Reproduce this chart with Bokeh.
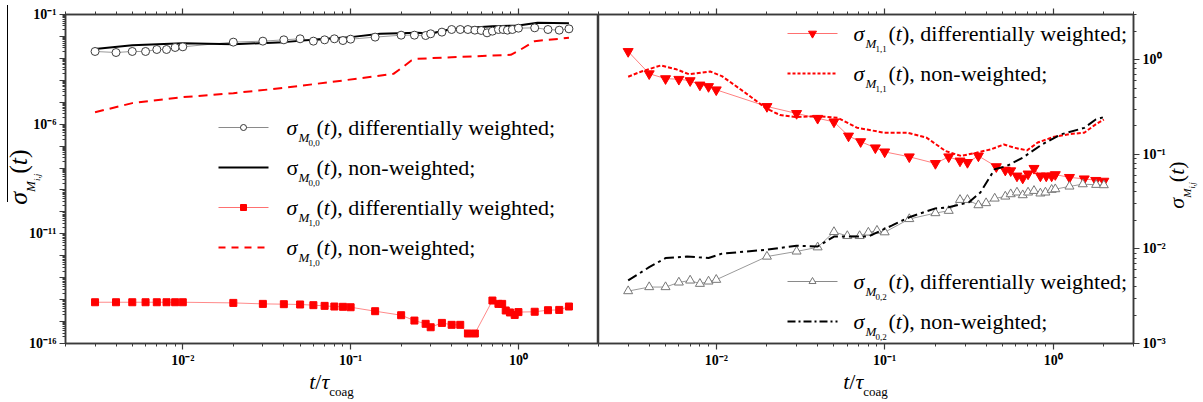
import json
import math

from bokeh.plotting import figure
from bokeh.models import FixedTicker, CustomJSTickFormatter, LogAxis, Label, Range1d, Div
from bokeh.layouts import row, column
from bokeh.embed import file_html
from bokeh.resources import INLINE

# ------------------------------------------------------------------
# Data
# ------------------------------------------------------------------
# Left panel: sigma_M00 and sigma_M10
t_m00_dw = [0.003, 0.004, 0.005, 0.006, 0.007, 0.008, 0.009, 0.01,
            0.02, 0.03, 0.04, 0.05, 0.06, 0.07, 0.08, 0.09, 0.1,
            0.14, 0.2, 0.24, 0.28, 0.3, 0.35, 0.4, 0.45, 0.5, 0.55, 0.6, 0.65,
            0.7, 0.76, 0.81, 0.86, 0.92, 1.0, 1.25, 1.5, 1.75, 2.0]
y_m00_dw = [2.06e-3, 1.85e-3, 2.06e-3, 2.06e-3, 2.54e-3, 2.54e-3, 3.13e-3, 3.36e-3,
            5.5e-3, 6.1e-3, 7.0e-3, 7.8e-3, 6.1e-3, 7.0e-3, 7.8e-3, 6.5e-3, 7.5e-3,
            9.3e-3, 1.14e-2, 1.14e-2, 1.1e-2, 1.32e-2, 1.57e-2, 2.07e-2, 2.07e-2, 2.07e-2,
            1.93e-2, 1.87e-2, 1.46e-2, 1.74e-2, 2.07e-2, 2.07e-2, 1.93e-2, 2.07e-2, 2.38e-2,
            2.47e-2, 2.07e-2, 1.93e-2, 2.22e-2]

t_m00_nw = [0.003, 0.005, 0.01, 0.02, 0.04, 0.07, 0.1, 0.15, 0.25, 0.3, 0.4, 0.7, 1.0, 1.3, 2.0]
y_m00_nw = [2.7e-3, 4.0e-3, 4.9e-3, 4.4e-3, 5.5e-3, 7.8e-3, 9.3e-3, 1.32e-2, 1.46e-2,
            1.35e-2, 2.2e-2, 2.9e-2, 3.15e-2, 4.2e-2, 4.0e-2]

t_m10_dw = [0.003, 0.004, 0.005, 0.006, 0.007, 0.008, 0.009, 0.01,
            0.02, 0.03, 0.04, 0.05, 0.06, 0.07, 0.08, 0.09, 0.1,
            0.14, 0.2, 0.24, 0.28, 0.3, 0.35, 0.4, 0.45, 0.5, 0.55,
            0.7, 0.76, 0.8, 0.84, 0.89, 0.95, 1.0, 1.25, 1.5, 1.75, 2.0]
y_m10_dw = [7.6e-15, 7.6e-15, 7.6e-15, 7.6e-15, 7.6e-15, 7.6e-15, 7.6e-15, 7.6e-15,
            7.1e-15, 6.4e-15, 6.2e-15, 6.0e-15, 5.6e-15, 5.2e-15, 4.85e-15, 4.7e-15, 4.5e-15,
            2.97e-15, 1.95e-15, 1.11e-15, 7.9e-16, 5.5e-16, 8.7e-16, 7.1e-16, 7.1e-16,
            2.85e-16, 2.85e-16,
            9.1e-15, 6.4e-15, 6.4e-15, 3.2e-15, 2.6e-15, 2.0e-15, 2.7e-15,
            2.8e-15, 3.3e-15, 3.4e-15, 4.85e-15]

t_m10_nw = [0.003, 0.005, 0.01, 0.02, 0.04, 0.09, 0.18, 0.2, 0.23, 0.25, 0.4, 0.9, 1.0, 1.25, 2.0]
y_m10_nw = [3.5e-6, 9.1e-6, 1.7e-5, 2.6e-5, 4.5e-5, 9.8e-5, 1.97e-4, 3.5e-4, 8.0e-4,
            9.5e-4, 1.13e-3, 1.45e-3, 2.2e-3, 6.1e-3, 8.6e-3]

# Right panel: sigma_M11 and sigma_M02
t_m11_dw = [0.003, 0.004, 0.005, 0.006, 0.007, 0.008, 0.009, 0.01,
            0.02, 0.03, 0.04, 0.05, 0.061, 0.072, 0.088, 0.1,
            0.14, 0.2, 0.24, 0.28, 0.31, 0.36,
            0.46, 0.52, 0.56, 0.61, 0.66, 0.71, 0.77, 0.84, 0.91, 0.98, 1.03,
            1.25, 1.53, 1.79, 2.0]
y_m11_dw = [1.22, 0.71, 0.63, 0.62, 0.60, 0.54, 0.52, 0.48,
            0.32, 0.27, 0.24, 0.22, 0.156, 0.136, 0.117, 0.106,
            0.094, 0.080, 0.094, 0.085, 0.082, 0.096,
            0.074, 0.068, 0.067, 0.059, 0.056, 0.062, 0.071, 0.059, 0.059, 0.059, 0.061,
            0.057, 0.055, 0.053, 0.052]

t_m11_nw = [0.003, 0.0036, 0.0047, 0.0058, 0.0069, 0.0092, 0.0108, 0.0148, 0.0198, 0.0239,
            0.0295, 0.040, 0.0526, 0.0685, 0.099, 0.136, 0.177, 0.23, 0.284, 0.35,
            0.43, 0.51, 0.59, 0.70, 0.81, 1.0, 1.24, 1.53, 1.79, 2.0]
y_m11_nw = [0.66, 0.75, 0.87, 0.79, 0.70, 0.75, 0.67, 0.45, 0.305, 0.26,
            0.247, 0.253, 0.243, 0.191, 0.169, 0.169, 0.150, 0.108, 0.096, 0.104,
            0.113, 0.127, 0.117, 0.110, 0.133, 0.152, 0.163, 0.169, 0.207, 0.233]

t_m02_dw = [0.003, 0.004, 0.005, 0.006, 0.007, 0.008, 0.009, 0.01,
            0.02, 0.03, 0.04, 0.05, 0.06, 0.071, 0.08, 0.09, 0.1,
            0.14, 0.2, 0.24, 0.28, 0.31, 0.36, 0.4, 0.45, 0.52, 0.56, 0.61, 0.66,
            0.71, 0.77, 0.84, 0.9, 0.98, 1.03, 1.25, 1.5, 1.8, 2.0]
y_m02_dw = [3.58e-3, 3.95e-3, 3.95e-3, 4.42e-3, 4.64e-3, 4.28e-3, 4.53e-3, 4.72e-3,
            8.3e-3, 9.4e-3, 1.04e-2, 1.51e-2, 1.37e-2, 1.37e-2, 1.49e-2, 1.56e-2, 1.5e-2,
            2.07e-2, 2.39e-2, 2.53e-2, 3.3e-2, 3.3e-2, 2.9e-2, 3.05e-2, 3.41e-2, 3.58e-2,
            3.79e-2, 3.95e-2, 3.7e-2, 3.95e-2, 4.11e-2, 3.86e-2, 3.95e-2, 4.22e-2, 4.28e-2,
            4.57e-2, 4.83e-2, 4.76e-2, 4.72e-2]

t_m02_nw = [0.003, 0.004, 0.005, 0.0067, 0.009, 0.0108, 0.0193, 0.03, 0.04, 0.05, 0.08,
            0.11, 0.14, 0.2, 0.24, 0.315, 0.37, 0.45, 0.53, 0.66, 0.86, 1.11, 1.53, 1.79, 2.0]
y_m02_nw = [4.64e-3, 6.4e-3, 8.0e-3, 8.3e-3, 8.0e-3, 8.9e-3, 9.75e-3, 1.08e-2, 1.06e-2,
            1.35e-2, 1.35e-2, 1.76e-2, 2.16e-2, 2.68e-2, 2.75e-2, 3.1e-2, 3.95e-2, 6.95e-2,
            7.5e-2, 9.2e-2, 0.127, 0.162, 0.19, 0.233, 0.247]

# Tick labels (exponent -> label)
x_tick_labels = {-2: "10\u207b\u00b2", -1: "10\u207b\u00b9", 0: "10\u2070"}
left_y_tick_labels = {-1: "10\u207b\u00b9", -6: "10\u207b\u2076",
                      -11: "10\u207b\u00b9\u00b9", -16: "10\u207b\u00b9\u2076"}
right_y_tick_labels = {0: "10\u2070", -1: "10\u207b\u00b9", -2: "10\u207b\u00b2", -3: "10\u207b\u00b3"}

x_lim = (0.002, 3.0)
left_y_lim = (1e-16, 1e-1)
right_y_lim = (1e-3, 3.0)

# ------------------------------------------------------------------
# Layout / style
# ------------------------------------------------------------------
SERIF = "Liberation Serif"
FRAME_H = 329
TOP = 14
FIG_H = 371
BOTTOM = FIG_H - TOP - FRAME_H
L_FRAME_W, R_FRAME_W = 533, 535
LDIV_W, RDIV_W = 24, 31
L_BORDER_L, R_BORDER_R = 65 - LDIV_W, 36
XT_H = 29
L_X0, R_X0, Y0 = 65, 598, 14   # page position of the frames
AX = "#3a3a3a"
TICK_FONT = "14px"


class Geo:
    def __init__(self, x0, w, ylim):
        self.x0, self.w = x0, w
        self.xa, self.xb = math.log10(x_lim[0]), math.log10(x_lim[1])
        self.ya, self.yb = math.log10(ylim[0]), math.log10(ylim[1])

    def x(self, px):
        return 10 ** (self.xa + (px - self.x0) / self.w * (self.xb - self.xa))

    def y(self, py):
        return 10 ** (self.yb - (py - Y0) / FRAME_H * (self.yb - self.ya))


def fmt(labels):
    m = json.dumps({str(k): v for k, v in labels.items()})
    return CustomJSTickFormatter(code=(
        "const L = %s; const e = Math.round(Math.log10(tick));"
        " const s = L[String(e)]; return (s === undefined) ? '' : s;" % m))


def decade_ticker(lim):
    lo = math.floor(math.log10(lim[0]) + 1e-9)
    hi = math.ceil(math.log10(lim[1]) - 1e-9)
    major = [10.0 ** e for e in range(lo, hi + 1) if lim[0] * 0.999 <= 10.0 ** e <= lim[1] * 1.001]
    minor = [m * 10.0 ** e for e in range(lo, hi + 1) for m in range(2, 10)
             if lim[0] * 0.999 <= m * 10.0 ** e <= lim[1] * 1.001]
    return FixedTicker(ticks=major, minor_ticks=minor)


def style_axis(ax):
    ax.axis_line_color = AX
    ax.axis_line_width = 1.5
    ax.major_tick_in = 0
    ax.major_tick_out = 6
    ax.minor_tick_in = 0
    ax.minor_tick_out = 3
    ax.major_tick_line_color = AX
    ax.minor_tick_line_color = AX
    ax.major_tick_line_width = 1.2
    ax.minor_tick_line_width = 1
    ax.major_label_text_font = SERIF
    ax.major_label_text_font_style = "bold"
    ax.major_label_text_font_size = TICK_FONT
    ax.major_label_text_color = "black"
    ax.major_label_standoff = 3


def make_fig(frame_w, ylim, yloc, bl, br, ylabels):
    p = figure(frame_width=frame_w, frame_height=FRAME_H,
               x_axis_type="log", y_axis_type="log",
               x_range=Range1d(*x_lim), y_range=Range1d(*ylim),
               y_axis_location=yloc, toolbar_location=None, output_backend="svg",
               min_border_left=bl, min_border_right=br,
               min_border_top=TOP, min_border_bottom=BOTTOM)
    p.grid.visible = False
    p.background_fill_color = "white"
    p.border_fill_color = None
    p.outline_line_color = AX
    p.outline_line_width = 1.5
    xa = p.xaxis[0]
    ya = p.yaxis[0]
    xa.ticker = decade_ticker(x_lim)
    xa.formatter = fmt(x_tick_labels)
    ya.ticker = decade_ticker(ylim)
    ya.formatter = fmt(ylabels)
    style_axis(xa)
    style_axis(ya)
    top = LogAxis(ticker=decade_ticker(x_lim), formatter=fmt({}))
    style_axis(top)
    top.major_label_text_font_size = "0px"
    top.major_label_standoff = 0
    p.add_layout(top, "above")
    return p


def label(p, g, px, py, text, size, style="normal"):
    p.add_layout(Label(x=g.x(px), y=g.y(py), text=text, text_font=SERIF,
                       text_font_size="%dpx" % size, text_font_style=style,
                       text_color="black", text_align="left", text_baseline="middle"))


def legend_entry(p, g, py, x0, x1, xs, sub, desc, line_kw, marker=None,
                 sigma_style="italic", gap=30):
    p.line([g.x(x0), g.x(x1)], [g.y(py), g.y(py)], **line_kw)
    if marker is not None:
        p.scatter([g.x((x0 + x1) / 2.0)], [g.y(py)], **marker)
    label(p, g, xs, py, "\u03c3", 22, sigma_style)
    label(p, g, xs + 12, py + 10, "M", 13, "italic")
    label(p, g, xs + 22, py + 15, sub, 9)
    label(p, g, xs + gap, py, "(", 22)
    label(p, g, xs + gap + 7.3, py, "t", 22, "italic")
    label(p, g, xs + gap + 13.5, py, ")" + desc, 22)


FONT_CSS = "font-family:Liberation Serif,Times New Roman,serif;color:#000;white-space:nowrap;"


def y_title_html(width, height, cx, cy, big, bar=False):
    w, h = 90, big + 6
    sub_m = int(round(big * 0.5))
    sub_ij = int(round(big * 0.35))
    inner = ('<i>\u03c3</i>'
             '<i style="font-size:%dpx;position:relative;top:%dpx">M</i>'
             '<i style="font-size:%dpx;position:relative;top:%dpx">i,j</i>'
             '(<i>t</i>)') % (sub_m, int(big * 0.33), sub_ij, int(big * 0.5))
    bar_html = ""
    if bar:
        bar_html = ('<div style="position:absolute;left:7px;top:5px;width:1px;'
                    'height:197px;background:#000"></div>')
    return ('<div style="position:relative;width:%dpx;height:%dpx">%s'
            '<div style="position:absolute;left:%dpx;top:%dpx;width:%dpx;height:%dpx;'
            'line-height:%dpx;font-size:%dpx;text-align:center;transform:rotate(-90deg);%s">%s</div>'
            '</div>') % (width, height, bar_html, cx - w // 2, cy - h // 2, w, h, h, big,
                         FONT_CSS, inner)


def x_title_html(width):
    return ('<div style="width:%dpx;text-align:center;font-size:22px;line-height:22px;%s">'
            '<i>t</i>/<i>\u03c4</i><span style="font-size:13px;position:relative;top:7px">coag</span>'
            '</div>') % (width, FONT_CSS)


# ------------------------------------------------------------------
# Left panel
# ------------------------------------------------------------------
gl = Geo(L_X0, L_FRAME_W, left_y_lim)
left = make_fig(L_FRAME_W, left_y_lim, "left", L_BORDER_L, 0, left_y_tick_labels)

left.line(t_m00_dw, y_m00_dw, line_color="#9a9a9a", line_width=1)
left.line(t_m00_nw, y_m00_nw, line_color="black", line_width=2)
left.scatter(t_m00_dw, y_m00_dw, marker="circle", size=8, fill_color="white",
             line_color="#3c3c3c", line_width=1)
left.line(t_m10_dw, y_m10_dw, line_color="#ff8a8a", line_width=1)
left.scatter(t_m10_dw, y_m10_dw, marker="square", size=7, fill_color="#ff0000",
             line_color="#ff0000")
left.line(t_m10_nw, y_m10_nw, line_color="#ff0000", line_width=2, line_dash="9 6")

LX0, LX1, LXS = 218, 268, 286
legend_entry(left, gl, 127, LX0, LX1, LXS, "0,0", ", differentially weighted;",
             dict(line_color="#8a8a8a", line_width=1),
             dict(marker="circle", size=6, fill_color="white", line_color="#333333"))
legend_entry(left, gl, 167, LX0, LX1, LXS, "0,0", ", non-weighted;",
             dict(line_color="black", line_width=2.2), sigma_style="normal")
legend_entry(left, gl, 207, LX0, LX1, LXS, "1,0", ", differentially weighted;",
             dict(line_color="#ff7070", line_width=1),
             dict(marker="square", size=6, fill_color="#ff0000", line_color="#ff0000"))
legend_entry(left, gl, 247, LX0, LX1, LXS, "1,0", ", non-weighted;",
             dict(line_color="#ff0000", line_width=2, line_dash="7 6"))

# ------------------------------------------------------------------
# Right panel
# ------------------------------------------------------------------
gr = Geo(R_X0, R_FRAME_W, right_y_lim)
right = make_fig(R_FRAME_W, right_y_lim, "right", 0, R_BORDER_R, right_y_tick_labels)

right.line(t_m11_dw, y_m11_dw, line_color="#ff8080", line_width=1)
right.scatter(t_m11_dw, y_m11_dw, marker="inverted_triangle", size=10, fill_color="#ff0000",
              line_color="#ff0000")
right.line(t_m11_nw, y_m11_nw, line_color="#ff0000", line_width=2, line_dash="4 2")
right.line(t_m02_dw, y_m02_dw, line_color="#9a9a9a", line_width=1)
right.scatter(t_m02_dw, y_m02_dw, marker="triangle", size=9, fill_color="white",
              line_color="#777777", line_width=1)
right.line(t_m02_nw, y_m02_nw, line_color="black", line_width=2, line_dash="10 4 3 4")

RX0, RX1, RXS = 787, 837, 853
legend_entry(right, gr, 33, RX0, RX1, RXS, "1,1", ", differentially weighted;",
             dict(line_color="#ff7070", line_width=1),
             dict(marker="inverted_triangle", size=8, fill_color="#ff0000", line_color="#ff0000"),
             gap=35)
legend_entry(right, gr, 73, RX0, RX1, RXS, "1,1", ", non-weighted;",
             dict(line_color="#ff0000", line_width=2, line_dash="3 2"), gap=35)
legend_entry(right, gr, 281, RX0, RX1, RXS, "0,2", ", differentially weighted;",
             dict(line_color="#8a8a8a", line_width=1),
             dict(marker="triangle", size=7, fill_color="white", line_color="#777777"),
             gap=35)
legend_entry(right, gr, 321, RX0, RX1, RXS, "0,2", ", non-weighted;",
             dict(line_color="black", line_width=2, line_dash="8 3 2 3"), gap=35)

# ------------------------------------------------------------------
# Axis titles (HTML, so that subscripts can be set) and layout
# ------------------------------------------------------------------
R_FIG_RIGHT = R_X0 + R_FRAME_W + R_BORDER_R
ldiv = Div(text=y_title_html(LDIV_W, FIG_H, 19, 177, 26, bar=True),
           width=LDIV_W, height=FIG_H, margin=0)
rdiv = Div(text=y_title_html(RDIV_W, FIG_H, 1177 - R_FIG_RIGHT, 185, 22),
           width=RDIV_W, height=FIG_H, margin=0)

xl = Div(text=x_title_html(L_FRAME_W), width=L_FRAME_W, height=XT_H, margin=0)
xr = Div(text=x_title_html(R_FRAME_W), width=R_FRAME_W, height=XT_H, margin=0)
sp1 = Div(text="", width=L_X0, height=XT_H, margin=0)

layout = column(row(ldiv, left, right, rdiv), row(sp1, xl, xr))

open("out.html", "w").write(file_html(layout, INLINE))
